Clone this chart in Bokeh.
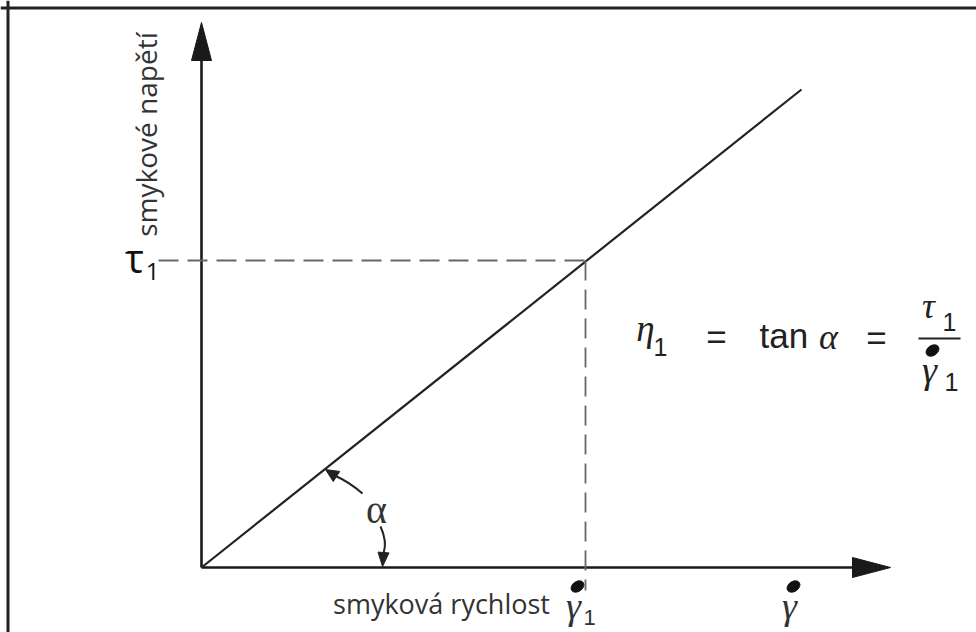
import math
from bokeh.plotting import figure
from bokeh.models import Range1d, Span
from bokeh.core.properties import value
from bokeh.embed import file_html
from bokeh.resources import INLINE

# ---- data (shear rate vs shear stress, arbitrary units) ----
shear_rate = [0, 600]          # x of Newtonian flow line
shear_stress = [0, 478]        # y of Newtonian flow line
gamma1 = 384                   # chosen shear rate
tau1 = 307                     # stress at gamma1
x_axis_end = 689
y_axis_end = 545

x_label = "smyková rychlost"
y_label = "smykové napětí"

p = figure(width=976, height=632, x_range=Range1d(-201, 775), y_range=Range1d(-65, 567),
           output_backend="svg", toolbar_location=None, min_border=0,
           x_axis_location=None, y_axis_location=None)
p.grid.visible = False
p.outline_line_color = None
p.background_fill_color = "white"
p.border_fill_color = "white"

# frame (top and left edges visible)
p.add_layout(Span(location=559.5, dimension="width", line_color="#222", line_width=3))
p.add_layout(Span(location=-193.5, dimension="height", line_color="#222", line_width=3))

def head(tip, base, half):
    tx, ty = tip
    bx, by = base
    dx, dy = tx - bx, ty - by
    L = math.hypot(dx, dy)
    nx, ny = -dy / L * half, dx / L * half
    return [tx, bx + nx, bx - nx], [ty, by + ny, by - ny]

ax_col = "#1a1a1a"
head_len = 38
# axes
p.line([0, x_axis_end - head_len + 2], [0, 0], line_color=ax_col, line_width=2.6)
p.line([0, 0], [0, y_axis_end - head_len + 2], line_color=ax_col, line_width=2.6)
hx, hy = head((x_axis_end, 0), (x_axis_end - head_len, 0), 10)
p.patch(hx, hy, fill_color=ax_col, line_color=ax_col)
hx, hy = head((0, y_axis_end), (0, y_axis_end - head_len), 10)
p.patch(hx, hy, fill_color=ax_col, line_color=ax_col)

# flow line
p.line(shear_rate, shear_stress, line_color="#222", line_width=2.2)

# dashed guides
p.line([-43, gamma1], [tau1, tau1], line_color="#666", line_width=1.8, line_dash="20 9")
p.line([gamma1, gamma1], [tau1, -23], line_color="#666", line_width=1.8, line_dash="20 9")

# alpha arrows
p.quadratic(x0=[161], y0=[74], x1=[133], y1=[92], cx=[147], cy=[86], line_color="#222", line_width=2)
hx, hy = head((124, 98), (135, 91), 6)
p.patch(hx, hy, fill_color="#222", line_color="#222")
p.quadratic(x0=[179], y0=[41], x1=[182], y1=[14], cx=[186], cy=[26], line_color="#222", line_width=2)
hx, hy = head((181, 1), (182, 15), 5.5)
p.patch(hx, hy, fill_color="#222", line_color="#222")
p.text(x=[175], y=[58], text=["α"], text_font=value("Liberation Serif"), text_font_size="40px",
       text_color="#333", text_align="center", text_baseline="alphabetic")

# axis labels
p.text(x=[240], y=[-36], text=[x_label], text_font=value("Open Sans"), text_font_size="27px",
       text_color="#333", text_align="center", text_baseline="alphabetic")
p.text(x=[-56], y=[433], text=[y_label], text_font=value("Open Sans"), text_font_size="28px",
       text_color="#333", text_align="center", text_baseline="alphabetic", angle=math.pi / 2)

# tau1 label
p.text(x=[-67], y=[310], text=["τ"], text_font=value("Open Sans"), text_font_size="40px",
       text_color="#111", text_align="center", text_baseline="alphabetic")
p.text(x=[-49], y=[296], text=["1"], text_font=value("Open Sans"), text_font_size="24px",
       text_color="#111", text_align="center", text_baseline="alphabetic")

# gamma-dot labels under x axis
p.text(x=[gamma1 - 12, 588], y=[-38, -38], text=["γ", "γ"], text_font=value("Liberation Serif"),
       text_font_style="italic", text_font_size="38px", text_color="#333",
       text_align="center", text_baseline="alphabetic")
p.ellipse(x=[gamma1 - 8, 592], y=[-19, -19], width=14, height=10, angle=0.6,
          fill_color="#111", line_color="#111")
p.text(x=[gamma1 + 4], y=[-50], text=["1"], text_font=value("Liberation Sans"),
       text_font_size="22px", text_color="#333", text_align="center", text_baseline="alphabetic")

# formula  eta1 = tan alpha = tau1 / gammadot1
fc = "#222"
p.text(x=[444], y=[239], text=["η"], text_font=value("Liberation Serif"), text_font_style="italic",
       text_font_size="37px", text_color=fc, text_align="center", text_baseline="alphabetic")
p.text(x=[459], y=[221], text=["1"], text_font=value("Liberation Sans"),
       text_font_size="25px", text_color=fc, text_align="center", text_baseline="alphabetic")
p.text(x=[515, 675], y=[231, 230], text=["=", "="], text_font=value("Liberation Sans"),
       text_font_size="35px", text_color=fc, text_align="center", text_baseline="alphabetic")
p.text(x=[558], y=[232], text=["tan"], text_font=value("Liberation Sans"),
       text_font_size="35px", text_color=fc, text_align="left", text_baseline="alphabetic")
p.text(x=[627], y=[231], text=["α"], text_font=value("Liberation Serif"), text_font_style="italic",
       text_font_size="36px", text_color=fc, text_align="center", text_baseline="alphabetic")
p.text(x=[727], y=[262], text=["τ"], text_font=value("Liberation Serif"), text_font_style="italic",
       text_font_size="36px", text_color=fc, text_align="center", text_baseline="alphabetic")
p.text(x=[748, 750], y=[246, 186], text=["1", "1"], text_font=value("Liberation Sans"),
       text_font_size="25px", text_color=fc, text_align="center", text_baseline="alphabetic")
p.line([717, 759], [229, 229], line_color=fc, line_width=2)
p.ellipse(x=[731], y=[217], width=14, height=10, angle=0.6, fill_color="#111", line_color="#111")
p.text(x=[728], y=[198], text=["γ"], text_font=value("Liberation Serif"), text_font_style="italic",
       text_font_size="38px", text_color=fc, text_align="center", text_baseline="alphabetic")

open("out.html", "w").write(file_html(p, INLINE))
